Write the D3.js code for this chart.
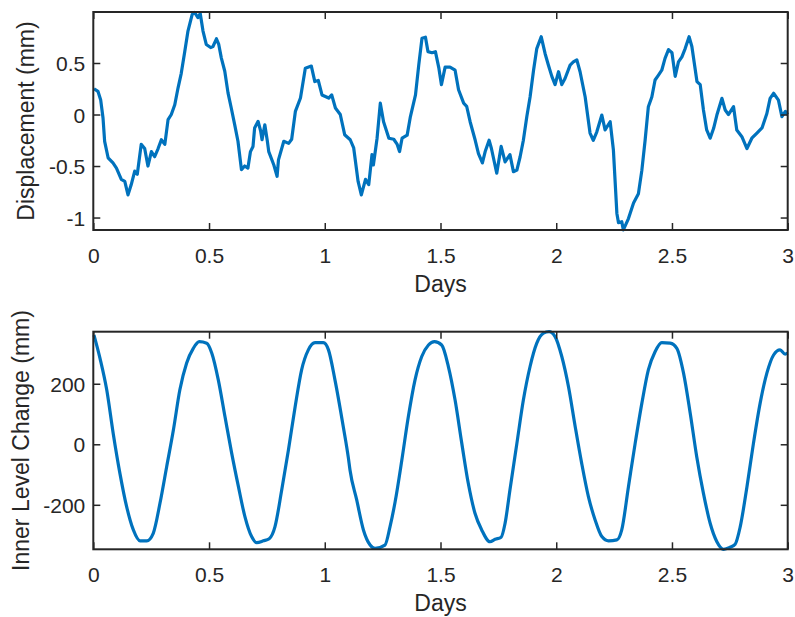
<!DOCTYPE html>
<html>
<head>
<meta charset="utf-8">
<script src="https://cdn.jsdelivr.net/npm/d3@7"></script>
<style>
  body { margin: 0; background: #fff; }
  svg { display: block; font-family: "Liberation Sans", Arial, sans-serif; }
</style>
</head>
<body>
<div id="chart"></div>
<script>
// traced values, top panel (displacement in mm vs days)
var dispDays = [0.003,0.02,0.032,0.042,0.049,0.064,0.085,0.1,0.121,0.136,0.15,0.164,0.179,0.19,0.207,0.222,0.236,0.251,0.265,0.28,0.294,0.309,0.323,0.337,0.352,0.366,0.38,0.395,0.409,0.427,0.438,0.452,0.462,0.474,0.488,0.507,0.517,0.532,0.542,0.553,0.568,0.582,0.596,0.611,0.625,0.64,0.654,0.668,0.679,0.69,0.697,0.712,0.723,0.729,0.741,0.752,0.758,0.78,0.794,0.8,0.823,0.844,0.857,0.873,0.895,0.916,0.942,0.957,0.972,0.988,1.017,1.03,1.046,1.067,1.086,1.11,1.125,1.144,1.158,1.176,1.19,1.204,1.21,1.226,1.24,1.254,1.277,1.298,1.313,1.323,1.334,1.356,1.37,1.392,1.406,1.42,1.435,1.446,1.463,1.478,1.493,1.504,1.52,1.541,1.563,1.578,1.6,1.613,1.628,1.65,1.664,1.681,1.693,1.71,1.72,1.743,1.762,1.779,1.8,1.815,1.83,1.844,1.858,1.873,1.887,1.902,1.916,1.935,1.952,1.966,1.981,1.995,2.01,2.024,2.038,2.06,2.074,2.089,2.103,2.125,2.146,2.16,2.175,2.197,2.211,2.233,2.247,2.262,2.269,2.283,2.29,2.312,2.334,2.355,2.37,2.384,2.398,2.413,2.427,2.441,2.456,2.47,2.485,2.5,2.514,2.528,2.543,2.557,2.574,2.586,2.608,2.622,2.636,2.65,2.665,2.68,2.694,2.716,2.73,2.744,2.766,2.78,2.802,2.824,2.845,2.867,2.889,2.91,2.924,2.939,2.96,2.975,2.99,3.0]
var dispMm = [0.25,0.225,0.14,-0.034,-0.26,-0.42,-0.47,-0.52,-0.63,-0.65,-0.78,-0.68,-0.55,-0.58,-0.29,-0.33,-0.5,-0.36,-0.41,-0.33,-0.245,-0.29,-0.05,0.0,0.095,0.257,0.4,0.61,0.81,0.97,0.99,0.94,0.98,0.81,0.68,0.65,0.66,0.735,0.68,0.55,0.42,0.21,0.063,-0.1,-0.26,-0.535,-0.5,-0.52,-0.36,-0.31,-0.13,-0.066,-0.16,-0.245,-0.1,-0.26,-0.36,-0.49,-0.6,-0.44,-0.26,-0.28,-0.24,0.03,0.16,0.45,0.47,0.32,0.33,0.19,0.16,0.19,0.063,0.0,-0.196,-0.245,-0.325,-0.65,-0.78,-0.63,-0.68,-0.39,-0.49,-0.23,0.11,-0.07,-0.23,-0.24,-0.29,-0.36,-0.23,-0.2,-0.02,0.19,0.48,0.74,0.75,0.61,0.6,0.61,0.45,0.29,0.46,0.46,0.43,0.24,0.11,0.08,-0.07,-0.25,-0.38,-0.47,-0.36,-0.25,-0.33,-0.57,-0.31,-0.46,-0.39,-0.555,-0.54,-0.41,-0.25,-0.02,0.17,0.43,0.64,0.755,0.59,0.48,0.37,0.29,0.415,0.29,0.35,0.48,0.51,0.53,0.415,0.17,-0.18,-0.25,-0.17,-0.005,-0.15,-0.07,-0.345,-0.96,-1.05,-1.04,-1.12,-1.01,-0.86,-0.77,-0.54,-0.25,0.076,0.17,0.335,0.38,0.43,0.545,0.63,0.6,0.37,0.51,0.56,0.64,0.755,0.66,0.32,0.29,0.044,-0.15,-0.23,-0.134,-0.005,0.157,0.044,0.0,0.076,-0.15,-0.215,-0.33,-0.23,-0.18,-0.13,0.01,0.157,0.206,0.14,-0.02,0.03,0.0]

// bottom panel (inner level change in mm vs days)
var levelDays = [0.003,0.029,0.058,0.086,0.115,0.144,0.173,0.202,0.231,0.259,0.288,0.317,0.346,0.374,0.403,0.432,0.458,0.49,0.512,0.54,0.569,0.598,0.627,0.655,0.684,0.706,0.735,0.76,0.785,0.814,0.843,0.872,0.9,0.929,0.958,0.994,1.016,1.044,1.08,1.102,1.109,1.138,1.167,1.196,1.217,1.26,1.282,1.304,1.333,1.361,1.39,1.419,1.448,1.474,1.505,1.534,1.563,1.592,1.62,1.649,1.678,1.714,1.736,1.762,1.779,1.8,1.83,1.858,1.887,1.916,1.945,1.969,1.995,2.024,2.053,2.082,2.11,2.139,2.168,2.197,2.226,2.262,2.283,2.312,2.341,2.37,2.398,2.427,2.456,2.492,2.521,2.55,2.579,2.607,2.636,2.665,2.694,2.723,2.751,2.773,2.795,2.824,2.852,2.881,2.91,2.939,2.967,2.989,3.0]
var levelMm = [361,284,180,36,-96,-206,-283,-319,-319,-294,-195,-74,47,180,268,317,339,334,301,213,91,-30,-140,-239,-305,-325,-319,-312,-272,-151,-19,124,246,312,336,336,312,213,58,-45,-85,-184,-283,-333,-344,-333,-272,-190,-52,91,213,290,328,339,328,257,146,3,-129,-228,-283,-322,-314,-307,-261,-151,3,146,257,334,367,372,356,290,190,58,-63,-173,-250,-305,-319,-316,-283,-140,3,136,246,306,336,334,317,235,102,-41,-162,-261,-322,-347,-340,-330,-272,-140,3,136,235,295,312,298,301]

var xTicks = [0, 0.5, 1, 1.5, 2, 2.5, 3]
var dispTicks = [-1, -0.5, 0, 0.5]
var levelTicks = [-200, 0, 200]

var W = 795, H = 617
var left = 93.3, right = 787.7
var axisColor = "#262626", lineColor = "#0072BD"

var svg = d3.select("#chart").append("svg")
    .attr("width", W)
    .attr("height", H)

var x = d3.scaleLinear().domain([0, 3]).range([left, right])

// plain hyphen minus like the original
var plain = d => String(d)

function panel(top, bottom, yDomain, yTicks, days, vals, ylabel, ylabelX, curve) {
    var y = d3.scaleLinear().domain(yDomain).range([bottom, top])
    var g = svg.append("g")

    // data line
    var line = d3.line()
        .x((d, i) => x(days[i]))
        .y(d => y(d))
        .curve(curve)
    g.append("path")
        .datum(vals)
        .attr("fill", "none")
        .attr("stroke", lineColor)
        .attr("stroke-width", 3.2)
        .attr("stroke-linejoin", "round")
        .attr("d", line)

    // axes with inward ticks on all four sides
    var ax = g.append("g").attr("transform", `translate(0,${bottom})`)
        .call(d3.axisBottom(x).tickValues(xTicks).tickSize(-7).tickPadding(0).tickFormat(plain))
    var axT = g.append("g").attr("transform", `translate(0,${top})`)
        .call(d3.axisTop(x).tickValues(xTicks).tickSize(-7).tickFormat(""))
    var ay = g.append("g").attr("transform", `translate(${left},0)`)
        .call(d3.axisLeft(y).tickValues(yTicks).tickSize(-7).tickPadding(0).tickFormat(plain))
    var ayR = g.append("g").attr("transform", `translate(${right},0)`)
        .call(d3.axisRight(y).tickValues(yTicks).tickSize(-7).tickFormat(""))

    ;[ax, axT, ay, ayR].forEach(a => {
        a.select(".domain").remove()
        a.selectAll(".tick line").attr("stroke", axisColor).attr("stroke-width", 1.5)
        a.selectAll(".tick text").attr("fill", axisColor).style("font-size", "21px")
    })
    ax.selectAll(".tick text").attr("dy", null).attr("y", 32.5)
    ay.selectAll(".tick text").attr("dy", "0.36em").attr("x", -8)

    // box
    g.append("rect")
        .attr("x", left).attr("y", top)
        .attr("width", right - left).attr("height", bottom - top)
        .attr("fill", "none")
        .attr("stroke", axisColor)
        .attr("stroke-width", 2)

    g.append("text")
        .attr("x", (left + right) / 2)
        .attr("y", bottom + 62)
        .attr("text-anchor", "middle")
        .attr("fill", axisColor)
        .style("font-size", "23px")
        .text("Days")

    g.append("text")
        .attr("transform", `translate(${ylabelX},${(top + bottom) / 2}) rotate(-90)`)
        .attr("text-anchor", "middle")
        .attr("fill", axisColor)
        .style("font-size", "23px")
        .text(ylabel)
}

panel(12, 230, [-1.121, 0.995], dispTicks, dispDays, dispMm,
      "Displacement (mm)", 34, d3.curveLinear)
panel(331.7, 549.3, [-347, 372], levelTicks, levelDays, levelMm,
      "Inner Level Change (mm)", 29, d3.curveMonotoneX)
</script>
</body>
</html>
